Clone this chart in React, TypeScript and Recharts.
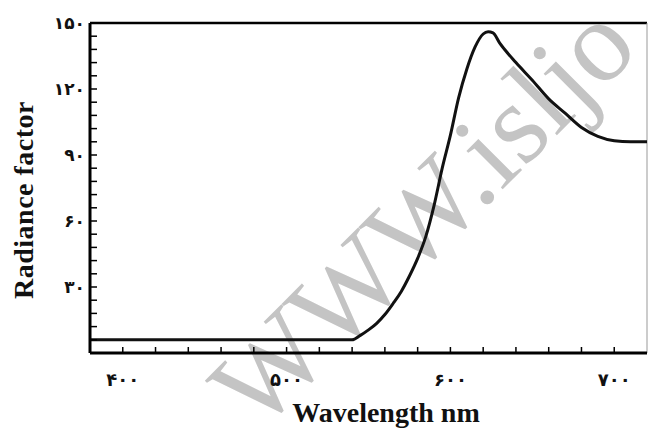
import React from 'react';
import { LineChart, Line, XAxis, YAxis, ReferenceLine } from 'recharts';

// Wavelength (nm) and radiance factor
const wavelengths = [380, 400, 450, 500, 540, 545, 550, 555, 560, 565, 570, 575, 580, 585, 590, 595, 600, 605, 610, 615, 620, 623, 626, 630, 640, 650, 660, 670, 680, 690, 700, 710, 720];
const radiance = [6, 6, 6, 6, 6, 8, 10.5, 13.5, 17.5, 22.5, 28, 35, 43, 53, 67, 84, 99, 116, 129, 139, 145, 146, 145.5, 141, 132, 124, 115.5, 109, 102.5, 98.5, 96.5, 96, 96];

const xTicks = [400, 420, 440, 460, 480, 500, 520, 540, 560, 580, 600, 620, 640, 660, 680, 700];
const xLabelTicks = [400, 500, 600, 700];
const yTicks = [6, 12, 18, 24, 30, 36, 42, 48, 54, 60, 66, 72, 78, 84, 90, 96, 102, 108, 114, 120, 126, 132, 138, 144, 150];
const yLabelTicks = [30, 60, 90, 120, 150];

const xTitle = 'Wavelength nm';
const yTitle = 'Radiance factor';
const watermark = 'WWW.isljo';

const data = wavelengths.map((w, i) => ({ w, r: radiance[i] }));

const persianDigits = '۰۱۲۳۴۵۶۷۸۹';
const toPersian = (n: number) => String(n).replace(/[0-9]/g, (d) => persianDigits[Number(d)]);

const FONT = 'DejaVu Sans';

const YTick = (props: any) => {
  const { x, y, payload } = props;
  if (!yLabelTicks.includes(payload.value)) return <g />;
  return (
    <text
      x={x}
      y={y}
      dy="0.36em"
      textAnchor="end"
      direction="ltr"
      fontFamily={FONT}
      fontSize={17}
      fontWeight="bold"
      fill="#111"
    >
      {toPersian(payload.value)}
    </text>
  );
};

const XTick = (props: any) => {
  const { x, y, payload } = props;
  if (!xLabelTicks.includes(payload.value)) return <g />;
  return (
    <text
      x={x}
      y={y}
      dy="0.75em"
      textAnchor="middle"
      direction="ltr"
      fontFamily={FONT}
      fontSize={18}
      fontWeight="bold"
      fill="#111"
    >
      {toPersian(payload.value)}
    </text>
  );
};

export default function App() {
  return (
    <div style={{ position: 'absolute', left: 0, top: 0, width: 649, height: 433, background: '#fff', overflow: 'hidden' }}>
      <svg width={649} height={433} style={{ position: 'absolute', left: 0, top: 0 }}>
        <text
          x={258}
          y={434}
          transform="rotate(-45 258 434)"
          fontFamily="Liberation Serif"
          fontSize={115}
          fill="#c4c4c4"
        >
          {watermark}
        </text>
      </svg>
      <div style={{ position: 'absolute', left: 0, top: 0 }}>
        <LineChart width={649} height={433} data={data} margin={{ top: 23, right: 2, left: 0, bottom: 0 }}>
          <XAxis
            dataKey="w"
            type="number"
            domain={[380, 720]}
            ticks={xTicks}
            interval={0}
            height={80}
            tickSize={-6}
            tickMargin={25}
            axisLine={{ stroke: '#000', strokeWidth: 3 }}
            tickLine={{ stroke: '#000', strokeWidth: 1.5 }}
            tick={<XTick />}
            allowDataOverflow
          />
          <YAxis
            type="number"
            domain={[0, 150]}
            ticks={yTicks}
            interval={0}
            width={90}
            tickSize={-7}
            tickMargin={12}
            axisLine={{ stroke: '#000', strokeWidth: 3 }}
            tickLine={{ stroke: '#000', strokeWidth: 1.5 }}
            tick={<YTick />}
            allowDataOverflow
          />
          <ReferenceLine y={150} stroke="#000" strokeWidth={2.5} />
          <ReferenceLine x={720} stroke="#999" strokeWidth={1} />
          <Line
            dataKey="r"
            type="monotone"
            stroke="#111"
            strokeWidth={3}
            dot={false}
            isAnimationActive={false}
          />
        </LineChart>
      </div>
      <svg width={649} height={433} style={{ position: 'absolute', left: 0, top: 0, pointerEvents: 'none' }}>
        <text
          x={386}
          y={422}
          textAnchor="middle"
          fontFamily="Liberation Serif"
          fontWeight="bold"
          fontSize={28}
          fill="#111"
        >
          {xTitle}
        </text>
        <text
          x={33}
          y={200}
          textAnchor="middle"
          transform="rotate(-90 33 200)"
          fontFamily="Liberation Serif"
          fontWeight="bold"
          fontSize={28}
          letterSpacing={0.5}
          fill="#111"
        >
          {yTitle}
        </text>
      </svg>
    </div>
  );
}
